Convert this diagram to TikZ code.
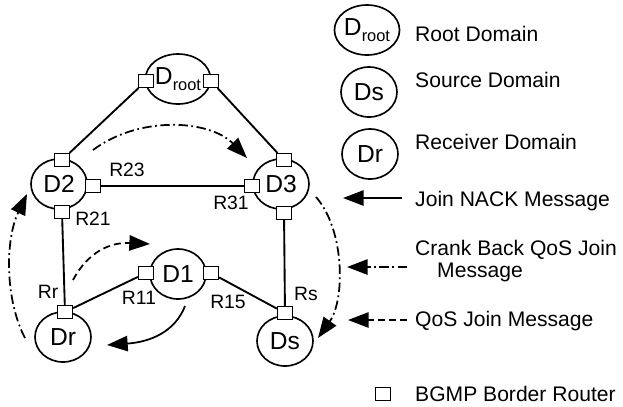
\documentclass[tikz,border=0pt]{standalone}
\usepackage{fontspec}
\setmainfont{Liberation Sans}
\usepackage{tikz}
\usetikzlibrary{shapes.geometric, arrows.meta}

\tikzset{
	dombox/.style = {draw, ellipse, line width=1.4pt, minimum width=1.68cm, minimum height=1.5cm, inner sep=0pt, font=\fontsize{21}{21}\selectfont},
	router/.style = {draw, fill=white, line width=1.3pt, minimum width=0.44cm, minimum height=0.38cm, inner sep=0pt},
	rlabel/.style = {inner sep=0pt, font=\fontsize{16.5}{16.5}\selectfont},
	legtext/.style = {anchor=west, inner sep=0pt, align=left, font=\fontsize{18}{19}\selectfont},
	link/.style = {line width=1.6pt},
	msg/.style = {line width=1.5pt, -{Triangle[length=0.62cm, width=0.46cm]}},
	crankline/.style = {dash pattern=on 8pt off 3pt on 1.5pt off 3pt},
	qosline/.style = {dash pattern=on 6pt off 3.5pt}
}

\begin{document}
\begin{tikzpicture}[x=0.03cm, y=-0.03cm]
	\useasboundingbox (0,0) rectangle (623,406);

	\node [dombox] (Droot) at (178,79) {D\raisebox{-0.45ex}{\fontsize{14}{14}\selectfont root}};
	\node [dombox] (D2) at (59,184) {D2};
	\node [dombox] (D3) at (281,184) {D3};
	\node [dombox] (D1) at (178,274) {D1};
	\node [dombox] (Dr) at (63,337) {Dr};
	\node [dombox] (Ds) at (285,341) {Ds};

	\node [router] (Rrootl) at (146,81) {};
	\node [router] (Rrootr) at (211,81) {};
	\node [router] (R2t) at (62,160) {};
	\node [router] (R23) at (93,186) {};
	\node [router] (R21) at (62,212) {};
	\node [router] (R3t) at (284,160) {};
	\node [router] (R31) at (252,186) {};
	\node [router] (R3b) at (284,213) {};
	\node [router] (R11) at (146,273) {};
	\node [router] (R15) at (211,273) {};
	\node [router] (Rr) at (65,312) {};
	\node [router] (Rs) at (285,313) {};

	\node [rlabel] (lR23) at (127,170) {R23};
	\node [rlabel] (lR31) at (231,203) {R31};
	\node [rlabel] (lR21) at (93,219) {R21};
	\node [rlabel] (lRr) at (48,292) {Rr};
	\node [rlabel] (lR11) at (139,298) {R11};
	\node [rlabel] (lR15) at (228,302) {R15};
	\node [rlabel] (lRs) at (306,294) {Rs};

	\draw [link] (Rrootl) -- (R2t);
	\draw [link] (Rrootr) -- (R3t);
	\draw [link] (R23) -- (R31);
	\draw [link] (R21) -- (Rr);
	\draw [link] (R3b) -- (Rs);
	\draw [link] (Rr) -- (R11);
	\draw [link] (R15) -- (Rs);

	\coordinate (topS) at (93,150);
	\coordinate (topE) at (247,158);
	\coordinate (leftS) at (25,338);
	\coordinate (leftE) at (27,194);
	\coordinate (rightS) at (316,197);
	\coordinate (rightE) at (318,338);
	\coordinate (qosS) at (73,280);
	\coordinate (qosE) at (150,244);
	\coordinate (nackS) at (185,306);
	\coordinate (nackE) at (107,345);

	\draw [msg, crankline] (topS) .. controls (140,115) and (210,120) .. (topE);
	\draw [msg, crankline] (leftS) .. controls (5,300) and (5,240) .. (leftE);
	\draw [msg, crankline] (rightS) .. controls (345,230) and (345,300) .. (rightE);
	\draw [msg, qosline] (qosS) .. controls (88,252) and (110,242) .. (qosE);
	\draw [msg] (nackS) .. controls (175,332) and (150,342) .. (nackE);

	\node [dombox] (LDroot) at (367,30) {D\raisebox{-0.45ex}{\fontsize{14}{14}\selectfont root}};
	\node [dombox] (LDs) at (369,92) {Ds};
	\node [dombox] (LDr) at (370,154) {Dr};
	\node [legtext] (tRoot) at (415,34) {Root Domain};
	\node [legtext] (tSource) at (415,80) {Source Domain};
	\node [legtext] (tRecv) at (415,142) {Receiver Domain};

	\coordinate (nackA) at (402,198);
	\coordinate (nackB) at (343,198);
	\coordinate (crankA) at (407,267);
	\coordinate (crankB) at (347,267);
	\coordinate (qosA) at (407,320);
	\coordinate (qosB) at (348,320);
	\draw [msg] (nackA) -- (nackB);
	\draw [msg, crankline] (crankA) -- (crankB);
	\draw [msg, qosline] (qosA) -- (qosB);
	\node [legtext] (tNack) at (415,201) {Join NACK Message};
	\node [legtext] (tCrank) at (415,261) {Crank Back QoS Join\\\hspace*{0.66cm}Message};
	\node [legtext] (tQos) at (415,321) {QoS Join Message};

	\node [router] (Lrouter) at (383,394) {};
	\node [legtext] (tBgmp) at (415,394) {BGMP Border Router};
\end{tikzpicture}
\end{document}
